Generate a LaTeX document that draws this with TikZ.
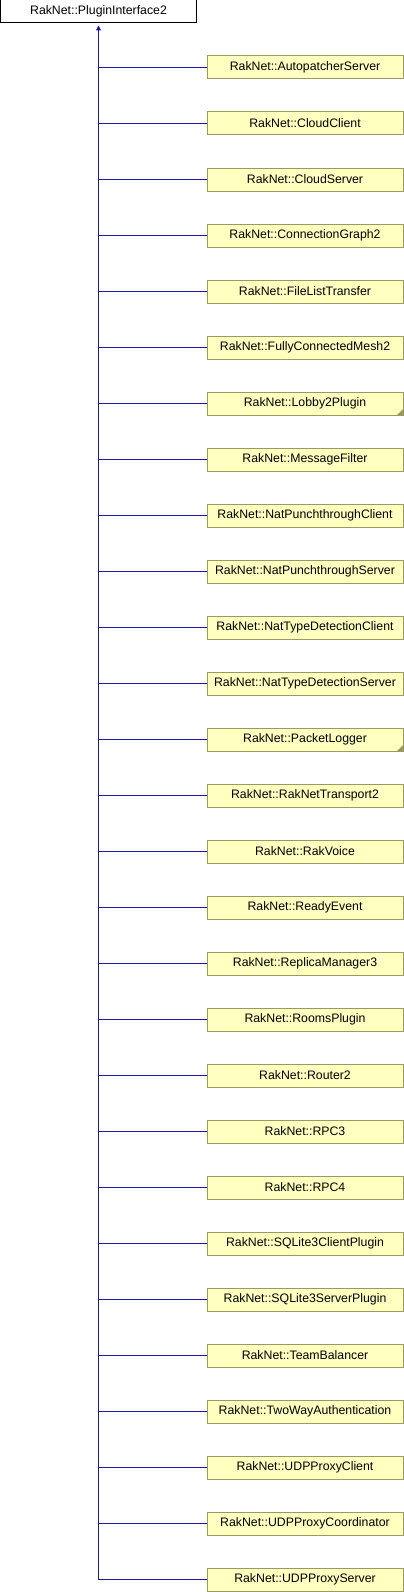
\documentclass[tikz,border=0pt]{standalone}
\usepackage{fontspec}
\setmainfont{Liberation Sans}
\usetikzlibrary{arrows.meta}
\definecolor{edgeblue}{RGB}{26,26,160}
\definecolor{boxfill}{RGB}{255,255,192}
\definecolor{boxline}{RGB}{153,153,96}
\tikzset{
  parentbox/.style={draw=black, fill=white, line width=1pt, minimum width=196pt, minimum height=23pt, inner sep=0pt, font=\fontsize{12.3}{14}\selectfont},
  childbox/.style={draw=boxline, fill=boxfill, line width=1pt, minimum width=196pt, minimum height=23pt, inner sep=0pt, font=\fontsize{12.3}{14}\selectfont},
  edge/.style={draw=edgeblue, line width=1pt},
}
\begin{document}
\begin{tikzpicture}[x=1pt,y=-1pt]
\useasboundingbox (0,0) rectangle (404,1592);
\node[parentbox] (top) at (98.5,11.5) {RakNet::PluginInterface2};
\foreach \name [count=\i] in {AutopatcherServer,CloudClient,CloudServer,ConnectionGraph2,FileListTransfer,FullyConnectedMesh2,Lobby2Plugin,MessageFilter,NatPunchthroughClient,NatPunchthroughServer,NatTypeDetectionClient,NatTypeDetectionServer,PacketLogger,RakNetTransport2,RakVoice,ReadyEvent,ReplicaManager3,RoomsPlugin,Router2,RPC3,RPC4,SQLite3ClientPlugin,SQLite3ServerPlugin,TeamBalancer,TwoWayAuthentication,UDPProxyClient,UDPProxyCoordinator,UDPProxyServer}{
  \node[childbox] (c\i) at (305,{67.5+56*(\i-1)}) {RakNet::\name};
  \draw[edge] (c\i.west) -- (top.south |- c\i.west);
}
\foreach \i in {7,13}{
  \fill[boxline] ([xshift=-6.5pt,yshift=0.5pt]c\i.south east) -- ([xshift=-0.5pt,yshift=0.5pt]c\i.south east) -- ([xshift=-0.5pt,yshift=6.5pt]c\i.south east) -- cycle;
}
\draw[edge, -{Triangle[width=5pt,length=5pt]}, shorten >=2pt] (top.south |- c28.west) -- (top.south);
\end{tikzpicture}
\end{document}
